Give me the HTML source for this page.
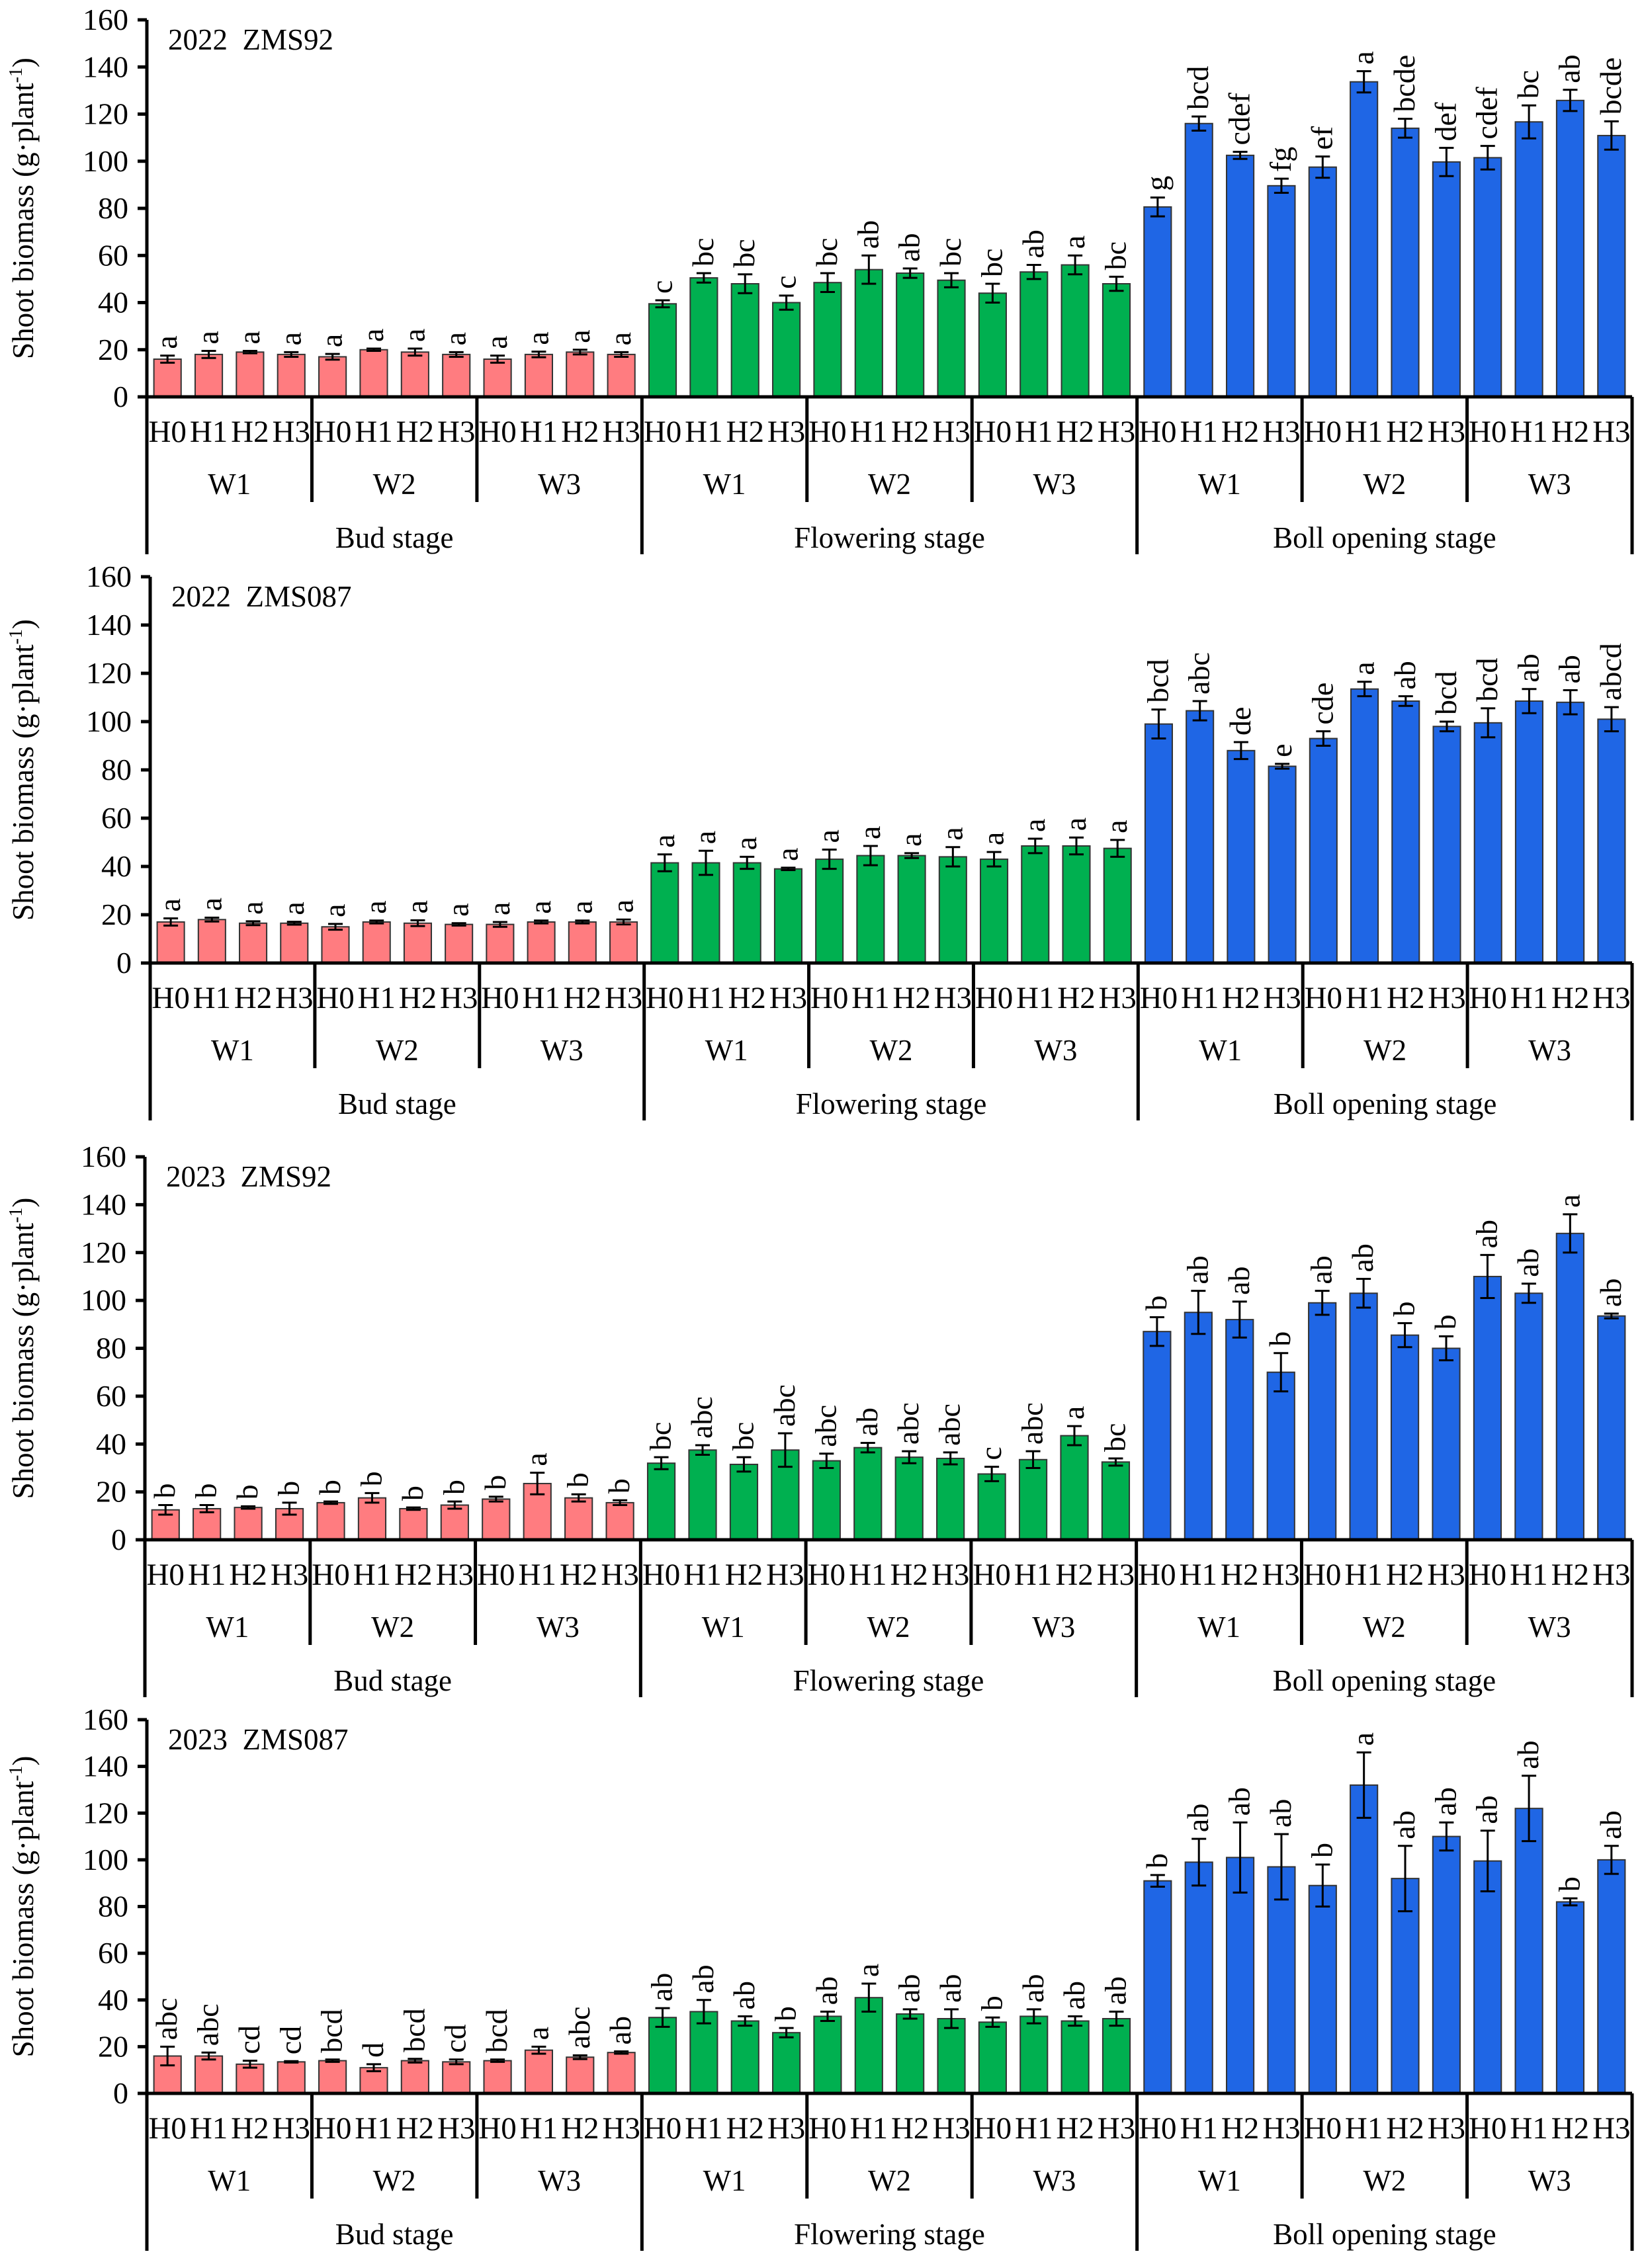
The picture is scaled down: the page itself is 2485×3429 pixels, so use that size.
<!DOCTYPE html>
<html><head><meta charset="utf-8"><style>body{margin:0;background:#fff}svg{display:block}svg text{font-family:"Liberation Serif","DejaVu Serif",serif;fill:#000}</style></head>
<body>
<svg id="s" width="2485" height="3429" xmlns="http://www.w3.org/2000/svg"></svg>
<script>
const P=[
{T:30,Z:600,X:222,title:"2022&#160;&#160;ZMS92",
v:[16,18,19,18,17,20,19,18,16,18,19,18, 39.5,50.5,48,40,48.5,54,52.5,49.5,44,53,56,48, 80.6,116,102.5,89.6,97.5,133.7,114,99.7,101.5,116.7,125.8,110.9],
e:[1.5,1.5,0.5,1,1.2,0.5,1.5,1,1.5,1.2,1,1, 1.5,2,4,3,4,6,2,3,4,3,4,3, 4,3,1.5,3,4.5,4.5,4,6,5,7,4.5,6],
l:"a a a a a a a a a a a a c bc bc c bc ab ab bc bc ab a bc g bcd cdef fg ef a bcde def cdef bc ab bcde"},
{T:872,Z:1456,X:227,title:"2022&#160;&#160;ZMS087",
v:[17,18,16.5,16.5,15,17,16.5,16,16,17,17,17, 41.5,41.5,41.5,39,43,44.5,44.5,44,43,48.5,48.5,47.5, 99,104.5,88,81.5,93,113.5,108.5,98,99.5,108.5,108,101],
e:[1.5,0.8,0.8,0.6,1.2,0.6,1.2,0.5,1,0.6,0.6,1, 3.5,5,2.5,0.5,4,4,1,4,3,3,3.5,3.5, 6,4,3.5,1,3,3,2,2,6,5,5,5],
l:"a a a a a a a a a a a a a a a a a a a a a a a a bcd abc de e cde a ab bcd bcd ab ab abcd"},
{T:1749,Z:2328,X:219,title:"2023&#160;&#160;ZMS92",
v:[12.5,13,13.5,13,15.5,17.5,13,14.5,17,23.5,17.5,15.5, 32,37.5,31.5,37.5,33,38.5,34.5,34,27.5,33.5,43.5,32.5, 87,95,92,70,99,103,85.5,80,110,103,128,93.5],
e:[2,1.5,0.5,2.5,0.5,2,0.5,1.5,1,4.5,1.5,1, 2.5,2,3,7,3,2,2.5,2.5,3,3.5,4,1.5, 6,9,7.5,8,5,6,5,5,9,4,8,1],
l:"b b b b b b b b b a b b bc abc bc abc abc ab abc abc c abc a bc b ab ab b ab ab b b ab ab a ab"},
{T:2600,Z:3165,X:222,title:"2023&#160;&#160;ZMS087",
v:[16,16,12.5,13.5,14,11,14,13.5,14,18.5,15.5,17.5, 32.5,35,31,26,33,41,34,32,30.5,33,31,32, 91,99,101,97,89,132,92,110,99.5,122,82,100],
e:[4,1.5,1.5,0.3,0.5,1.5,0.8,1,0.5,1.5,0.8,0.5, 4,5,2,2,2,6,2,4,2,3,2,3, 2.5,10,15,14,9,14,14,6,13,14,1.5,6],
l:"abc abc cd cd bcd d bcd cd bcd a abc ab ab ab ab b ab a ab ab b ab ab ab b ab ab ab b a ab ab ab ab b ab"}
];
const cols=["#FF7C80","#00B050","#1F66E5"];
const stages=["Bud stage","Flowering stage","Boll opening stage"];
let h="";
const R=2467;
for(const p of P){
 const {T,Z,X}=p, k=(Z-T)/160, pitch=(R-X)/36, L=p.l.split(" ");
 for(let t=0;t<=160;t+=20){const y=Z-t*k;
  h+=`<line x1="${X-14}" y1="${y}" x2="${X}" y2="${y}" stroke="#000" stroke-width="5"/>`;
  h+=`<text x="${X-28}" y="${y+15}" font-size="46" text-anchor="end">${t}</text>`;}
 h+=`<text transform="translate(50,${(T+Z)/2}) rotate(-90)" font-size="45" text-anchor="middle">Shoot biomass (g·plant<tspan font-size="28" dy="-17">-1</tspan><tspan dy="17">)</tspan></text>`;
 h+=`<text x="${X+32}" y="${T+45}" font-size="45">${p.title}</text>`;
 for(let i=0;i<36;i++){
  const cx=X+pitch*(i+0.5), w=pitch*0.66, v=p.v[i], e=p.e[i], top=Z-v*k;
  h+=`<rect x="${cx-w/2}" y="${top}" width="${w}" height="${v*k}" fill="${cols[Math.floor(i/12)]}" stroke="#333" stroke-width="2"/>`;
  const et=top-e*k, eb=top+e*k;
  h+=`<path d="M${cx} ${et}V${eb}M${cx-11} ${et}H${cx+11}M${cx-11} ${eb}H${cx+11}" stroke="#000" stroke-width="3" fill="none"/>`;
  h+=`<text transform="translate(${cx+14},${et-10}) rotate(-90)" font-size="46">${L[i]}</text>`;
  h+=`<text x="${cx}" y="${Z+68}" font-size="47" text-anchor="middle">H${i%4}</text>`;
 }
 for(let g=0;g<9;g++){const gx=X+pitch*4*(g+0.5);
  h+=`<text x="${gx}" y="${Z+147}" font-size="45" text-anchor="middle">W${g%3+1}</text>`;}
 for(let g=1;g<9;g++){ if(g%3) {const gx=X+pitch*4*g; h+=`<line x1="${gx}" y1="${Z}" x2="${gx}" y2="${Z+159}" stroke="#000" stroke-width="5"/>`;}}
 for(let s=0;s<3;s++){const sx=X+pitch*12*(s+0.5);
  h+=`<text x="${sx}" y="${Z+228}" font-size="45" text-anchor="middle">${stages[s]}</text>`;}
 for(let s=0;s<4;s++){const sx=X+pitch*12*s;
  h+=`<line x1="${sx}" y1="${s?Z:T}" x2="${sx}" y2="${Z+238}" stroke="#000" stroke-width="5"/>`;}
 h+=`<line x1="${X-14}" y1="${Z}" x2="${R}" y2="${Z}" stroke="#000" stroke-width="5"/>`;
}
document.getElementById("s").innerHTML=h;
</script>
</body></html>
